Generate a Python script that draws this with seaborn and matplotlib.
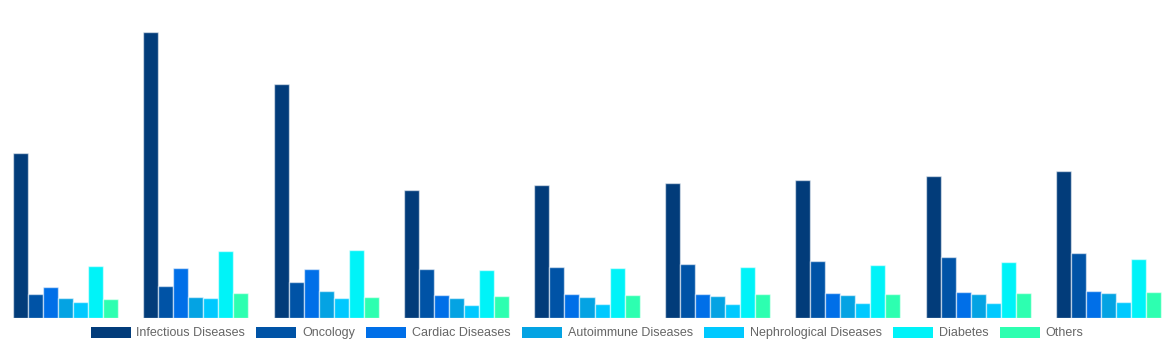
import matplotlib
matplotlib.use("Agg")
import matplotlib.pyplot as plt
import seaborn as sns
import pandas as pd
from matplotlib.patches import Patch

groups = ["G1", "G2", "G3", "G4", "G5", "G6", "G7", "G8", "G9"]
series = ["Infectious Diseases", "Oncology", "Cardiac Diseases", "Autoimmune Diseases",
          "Nephrological Diseases", "Diabetes", "Others"]
colors = ["#023c7a", "#0053a6", "#006fe8", "#04a3e3", "#00c9ff", "#00f3f8", "#2dffb0"]

infectious = [164.7, 286.0, 233.7, 128.3, 132.7, 135.0, 138.0, 141.7, 146.7]
oncology = [24.0, 32.0, 36.0, 49.0, 51.3, 54.0, 57.0, 60.7, 64.7]
cardiac = [31.3, 49.7, 48.7, 22.7, 23.7, 24.0, 25.0, 26.0, 26.7]
autoimmune = [20.0, 20.7, 26.7, 20.0, 20.7, 21.7, 22.7, 24.0, 25.3]
nephro = [16.3, 20.3, 20.3, 12.7, 13.7, 14.0, 14.7, 15.3, 16.0]
diabetes = [52.3, 67.3, 67.7, 47.7, 49.7, 51.3, 53.3, 55.7, 58.7]
others = [19.0, 24.7, 21.0, 22.3, 23.0, 23.7, 24.3, 25.3, 26.0]

values = [infectious, oncology, cardiac, autoimmune, nephro, diabetes, others]
rows = []
for s, vals in zip(series, values):
    for g, v in zip(groups, vals):
        rows.append({"group": g, "series": s, "value": v})
df = pd.DataFrame(rows)

sns.set_theme(style="white")
plt.rcParams["font.family"] = ["Liberation Sans", "DejaVu Sans"]

fig = plt.figure(figsize=(11.74, 3.5), dpi=100)
ax = fig.add_axes([0, 32 / 350, 1, 318 / 350])
sns.barplot(data=df, x="group", y="value", hue="series", hue_order=series,
            palette=colors, width=0.805, ax=ax, legend=False,
            edgecolor=(1, 1, 1, 0.55), linewidth=1, saturation=1)
ax.set_xlim(-0.5, 8.5)
ax.set_ylim(0, 318)
ax.axis("off")

handles = [Patch(facecolor=c, edgecolor="none") for c in colors]
fig.legend(handles, series, loc="center", bbox_to_anchor=(0.5, 1 - 333 / 350),
           ncol=7, frameon=False, fontsize=9.0, labelcolor="#666666",
           handlelength=3.2, handleheight=1.0, handletextpad=0.48,
           columnspacing=0.88, borderpad=0)

fig.savefig("out.png", dpi=100)
